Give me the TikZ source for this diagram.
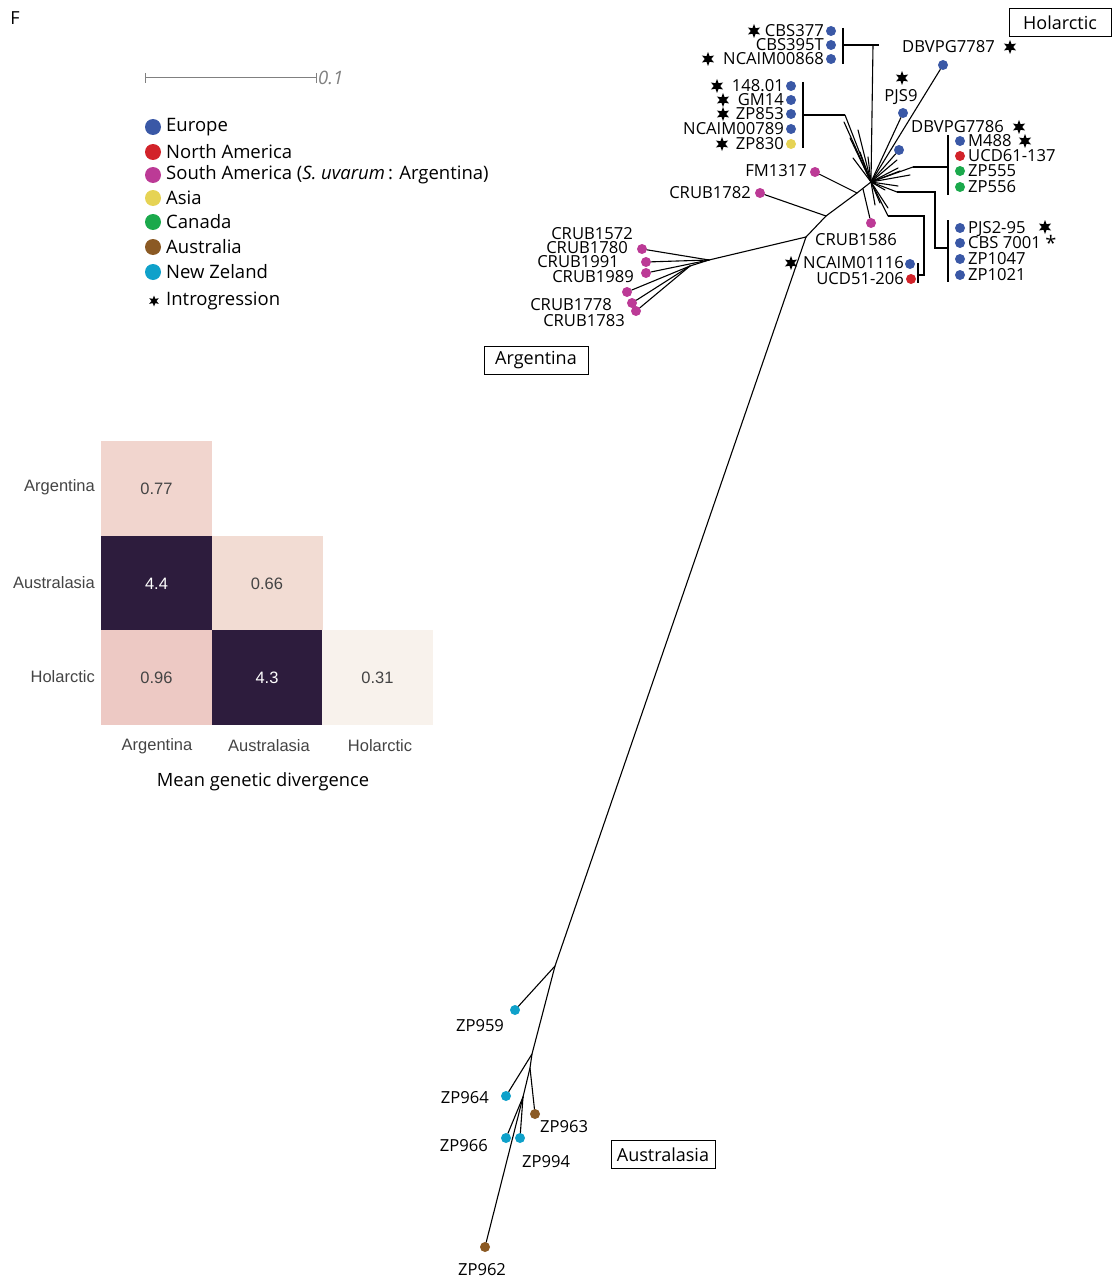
\documentclass[tikz,border=0pt]{standalone}
\usepackage{fontspec}
\usetikzlibrary{shapes.geometric}
\setmainfont{Open Sans}
\newfontfamily\labfont{Open Sans}
\newfontfamily\heatfont{Liberation Sans}

\definecolor{eu}{HTML}{3A58A6}
\definecolor{na}{HTML}{D2232A}
\definecolor{sa}{HTML}{BC3A96}
\definecolor{as}{HTML}{E6D354}
\definecolor{ca}{HTML}{1BA94C}
\definecolor{au}{HTML}{8B5A24}
\definecolor{nz}{HTML}{0FA1CA}
\definecolor{hmdark}{HTML}{2D1C3D}
\definecolor{hmA}{HTML}{F1D5CE}
\definecolor{hmB}{HTML}{F2DCD3}
\definecolor{hmC}{HTML}{EDC9C4}
\definecolor{hmD}{HTML}{F8F2EC}
\definecolor{hmtext}{HTML}{444444}

\tikzset{
  dot/.style={circle, inner sep=0pt, minimum size=10pt, fill=#1},
  ldot/.style={circle, inner sep=0pt, minimum size=16pt, fill=#1},
  lab/.style={font=\labfont\fontsize{16.6}{17}\selectfont, inner sep=0pt, text=black,
    text height=11.5pt, text depth=0pt},
  labr/.style={lab, anchor=east},
  labl/.style={lab, anchor=west},
  legtext/.style={font=\labfont\fontsize{18.5}{19}\selectfont, inner sep=0pt, anchor=west},
  intro/.style={star, star points=6, star point ratio=2.2, fill=black, inner sep=0pt, minimum size=14pt},
  branch/.style={line width=1.1pt, line cap=round},
  bracket/.style={line width=1.1pt},
  clade/.style={draw, line width=1pt, inner sep=0pt, minimum width=102pt, minimum height=28pt,
    font=\labfont\fontsize{18}{18}\selectfont},
  cell/.style={draw=none, inner sep=0pt, minimum width=111pt, minimum height=95pt,
    font=\heatfont\fontsize{16.5}{16.5}\selectfont, text=hmtext},
  axlab/.style={font=\heatfont\fontsize{16.5}{16.5}\selectfont, text=hmtext, inner sep=0pt},
}

\begin{document}
\begin{tikzpicture}[x=1pt,y=-1pt]
\useasboundingbox (0,0) rectangle (1113,1279);

% panel letter
\node[font=\labfont\fontsize{18}{18}\selectfont, inner sep=0pt] (panel) at (15,18) {F};

% scale bar
\coordinate (sbL) at (145,78);
\coordinate (sbR) at (316,78);
\draw[gray, line width=1pt] (sbL) -- (sbR);
\draw[gray, line width=1pt] (145,73) -- (145,83) (316,73) -- (316,83);
\node[font=\labfont\itshape\fontsize{18.5}{19}\selectfont, text=gray, anchor=west, inner sep=0pt] (sblab) at (318,78) {0.1};

% legend
\node[ldot=eu] (leu) at (153,127) {};
\node[legtext] at (166,127) {Europe};
\node[ldot=na] (lna) at (153,152) {};
\node[legtext] at (166,152) {North America};
\node[ldot=sa] (lsa) at (153,175) {};
\node[legtext] at (166,175) {South America (\textit{S. uvarum}\,: Argentina)};
\node[ldot=as] (las) at (153,198) {};
\node[legtext] at (166,198) {Asia};
\node[ldot=ca] (lca) at (153,222) {};
\node[legtext] at (166,222) {Canada};
\node[ldot=au] (lau) at (153,247) {};
\node[legtext] at (166,247) {Australia};
\node[ldot=nz] (lnz) at (153,272) {};
\node[legtext] at (166,272) {New Zeland};
\node[intro, minimum size=11pt] (lint) at (154,301) {};
\node[legtext] at (166,301) {Introgression};

% heat map of mean divergence
\node[cell, fill=hmA] (c11) at (156.5,488.5) {0.77};
\node[cell, fill=hmdark, text=white] (c21) at (156.5,583.5) {4.4};
\node[cell, fill=hmB] (c22) at (267,583.5) {0.66};
\node[cell, fill=hmC] (c31) at (156.5,677.5) {0.96};
\node[cell, fill=hmdark, text=white] (c32) at (267,677.5) {4.3};
\node[cell, fill=hmD] (c33) at (377.5,677.5) {0.31};
\node[axlab, anchor=east] at (95,487) {Argentina};
\node[axlab, anchor=east] at (95,583) {Australasia};
\node[axlab, anchor=east] at (95,677) {Holarctic};
\node[axlab] at (157,746) {Argentina};
\node[axlab] at (269,746) {Australasia};
\node[axlab] at (380,746) {Holarctic};
\node[font=\labfont\fontsize{18.3}{18.3}\selectfont, inner sep=0pt] (hmtitle) at (263,782) {Mean genetic divergence};

% clade boxes
\node[clade] (boxHol) at (1060,22.5) {Holarctic};
\node[clade, minimum width=104pt] (boxArg) at (536,360) {Argentina};
\node[clade, minimum width=104pt] (boxAus) at (663,1154.5) {Australasia};

% ---- internal nodes of the tree ----
\coordinate (hub) at (871,182);
\coordinate (nA) at (857,193);
\coordinate (nB) at (826,216);
\coordinate (nC) at (806,237);
\coordinate (argHub) at (709,260);
\coordinate (argSub) at (690,266);
\coordinate (ausA) at (555,966);
\coordinate (ausB) at (532,1054);
\coordinate (ausC) at (530,1068);
\coordinate (ausD) at (523,1097);

% ---- Holarctic leaves ----
\node[dot=eu] (dbvpg7787) at (943,65) {};
\node[lab, anchor=west] at (902,47) {DBVPG7787};
\node[intro] at (1010,47) {};
\node[dot=eu] (pjs9) at (903,113) {};
\node[lab] at (901,96) {PJS9};
\node[intro] at (902,78) {};
\node[dot=eu] (dbvpg7786) at (899,150) {};
\node[labl] at (911,127) {DBVPG7786};
\node[intro] at (1019,127) {};

% upper bracket
\node[dot=eu] (cbs377) at (831,31) {};
\node[dot=eu] (cbs395t) at (831,45) {};
\node[dot=eu] (ncaim00868) at (831,59) {};
\node[labr] at (824,31) {CBS377};
\node[labr] at (824,45) {CBS395T};
\node[labr] at (824,59) {NCAIM00868};
\node[intro] at (754,31) {};
\node[intro] at (708,59) {};
\coordinate (brU) at (873,45);
\draw[bracket] (843,28) -- (843,64);
\draw[bracket] (843,45) -- (879,45);

% second bracket
\node[dot=eu] (s14801) at (791,86) {};
\node[dot=eu] (gm14) at (791,100) {};
\node[dot=eu] (zp853) at (791,114) {};
\node[dot=eu] (ncaim00789) at (791,129) {};
\node[dot=as] (zp830) at (791,144) {};
\node[labr] at (784,86) {148.01};
\node[labr] at (784,100) {GM14};
\node[labr] at (784,114) {ZP853};
\node[labr] at (784,129) {NCAIM00789};
\node[labr] at (784,144) {ZP830};
\node[intro] at (717,86) {};
\node[intro] at (723,100) {};
\node[intro] at (723,114) {};
\node[intro] at (722,144) {};
\draw[bracket] (803,82) -- (803,148);
\draw[bracket] (803,115) -- (845,115);

% right bracket (M488 group)
\node[dot=eu] (m488) at (960,141) {};
\node[dot=na] (ucd61) at (960,156) {};
\node[dot=ca] (zp555) at (960,171) {};
\node[dot=ca] (zp556) at (960,187) {};
\node[labl] at (968,141) {M488};
\node[labl] at (968,156) {UCD61-137};
\node[labl] at (968,171) {ZP555};
\node[labl] at (968,187) {ZP556};
\node[intro] at (1025,141) {};
\draw[bracket] (948,135) -- (948,195);
\draw[bracket] (913,167) -- (948,167);

% right bracket (PJS2-95 group)
\node[dot=eu] (pjs2) at (960,228) {};
\node[dot=eu] (cbs7001) at (960,243) {};
\node[dot=eu] (zp1047) at (960,259) {};
\node[dot=eu] (zp1021) at (960,275) {};
\node[labl] at (968,228) {PJS2-95};
\node[labl] at (968,243) {CBS 7001};
\node[lab, font=\labfont\fontsize{20}{20}\selectfont] at (1051,245) {*};
\node[labl] at (968,259) {ZP1047};
\node[labl] at (968,275) {ZP1021};
\node[intro] at (1045,227) {};
\draw[bracket] (948,220) -- (948,282);
\draw[bracket] (897,192) -- (935,192) -- (935,248) -- (948,248);

% lower bracket (NCAIM01116 group)
\node[dot=eu] (ncaim01116) at (910,264) {};
\node[dot=na] (ucd51) at (911,279) {};
\node[labr] at (904,263) {NCAIM01116};
\node[labr] at (904,279) {UCD51-206};
\node[intro] at (791,263) {};
\draw[bracket] (888,216) -- (924,216) -- (924,275) -- (918,275);
\draw[bracket] (918,263) -- (918,283);

% spokes of the Holarctic star
\foreach \e in {(844,122),(858,130),(850,138),(853,158),(860,152),(868,157),
                (897,160),(898,168),(900,171),(910,175),(898,186),(885,190),
                (880,203),(888,208),(875,205),(845,115),(913,167),(897,192),(888,216)}
  \draw[branch] (hub) -- \e;
\draw[branch] (hub) -- (brU);
\draw[branch] (hub) -- (dbvpg7787);
\draw[branch] (hub) -- (pjs9);
\draw[branch] (hub) -- (dbvpg7786);

% Argentina and stem
\node[dot=sa] (fm1317) at (815,172) {};
\node[labr] at (807,171) {FM1317};
\node[dot=sa] (crub1782) at (760,193) {};
\node[labr] at (751,193) {CRUB1782};
\node[dot=sa] (crub1586) at (871,223) {};
\node[lab] at (856,240) {CRUB1586};
\coordinate (nCr) at (863,189);
\draw[branch] (hub) -- (nA) -- (nB) -- (nC);
\draw[branch] (nA) -- (fm1317);
\draw[branch] (nB) -- (crub1782);
\draw[branch] (nCr) -- (crub1586);
\draw[branch] (nC) -- (argHub);

\node[dot=sa] (crub1780) at (642,249) {};
\node[dot=sa] (crub1991) at (646,262) {};
\node[dot=sa] (crub1989) at (646,273) {};
\node[dot=sa] (crub1572) at (627,292) {};
\node[dot=sa] (crub1778) at (632,303) {};
\node[dot=sa] (crub1783) at (636,311) {};
\node[labr] at (633,234) {CRUB1572};
\node[labr] at (628,248) {CRUB1780};
\node[labr] at (619,262) {CRUB1991};
\node[labr] at (634,277) {CRUB1989};
\node[labr] at (612,305) {CRUB1778};
\node[labr] at (625,321) {CRUB1783};
\draw[branch] (argHub) -- (crub1780);
\draw[branch] (argHub) -- (crub1991);
\draw[branch] (argHub) -- (crub1989);
\draw[branch] (argHub) -- (argSub);
\draw[branch] (argSub) -- (crub1572);
\draw[branch] (argSub) -- (crub1778);
\draw[branch] (argSub) -- (crub1783);

% long stem to Australasia
\draw[branch] (nC) -- (ausA) -- (ausB) -- (ausC) -- (ausD);
\node[dot=nz] (zp959) at (515,1010) {};
\node[lab] at (480,1026) {ZP959};
\node[dot=nz] (zp964) at (506,1096) {};
\node[labr] at (489,1098) {ZP964};
\node[dot=au] (zp963) at (535,1114) {};
\node[labl] at (540,1127) {ZP963};
\node[dot=nz] (zp966) at (506,1138) {};
\node[labr] at (488,1146) {ZP966};
\node[dot=nz] (zp994) at (520,1138) {};
\node[labl] at (522,1162) {ZP994};
\node[dot=au] (zp962) at (485,1247) {};
\node[lab] at (482,1270) {ZP962};
\draw[branch] (ausA) -- (zp959);
\draw[branch] (ausB) -- (zp964);
\draw[branch] (ausC) -- (zp963);
\draw[branch] (ausD) -- (zp966);
\draw[branch] (ausD) -- (zp994);
\draw[branch] (ausD) -- (zp962);
\end{tikzpicture}
\end{document}
